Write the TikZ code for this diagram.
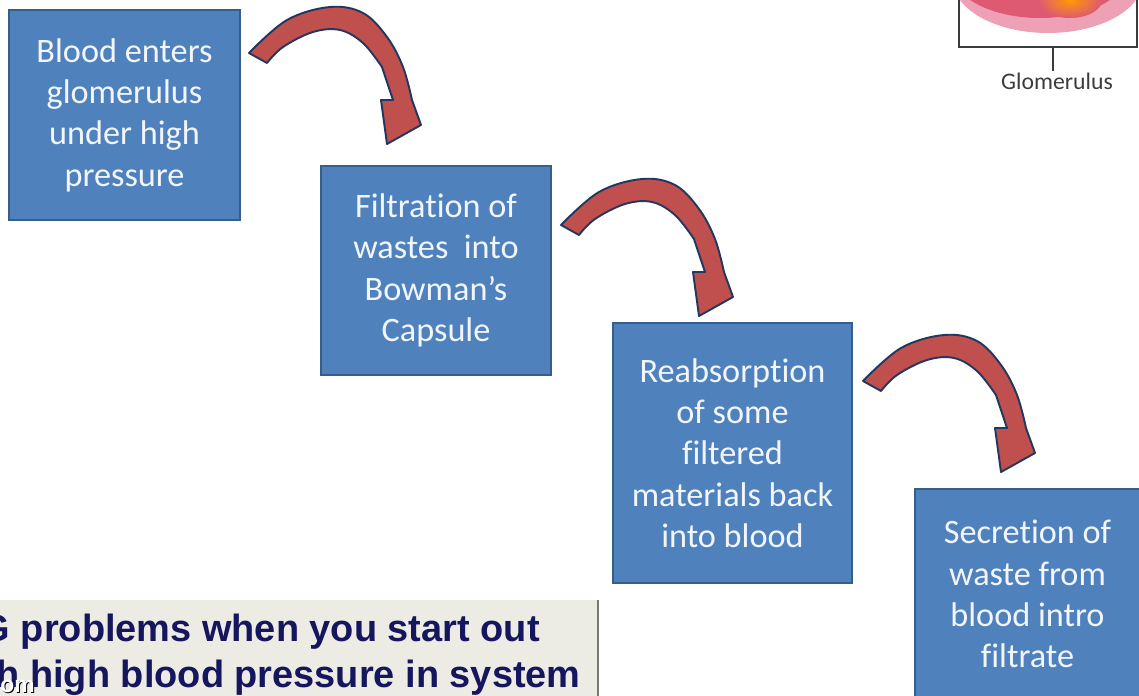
\documentclass[tikz,border=0pt]{standalone}
\usepackage{fontspec}
\setmainfont{Carlito}[Ligatures=NoCommon]
\newfontfamily\notefont{Liberation Sans}
\usetikzlibrary{positioning, calc}
\usepackage{xcolor}
\definecolor{boxblue}{RGB}{79,129,189}
\definecolor{boxedge}{RGB}{56,93,138}
\definecolor{boxtext}{RGB}{242,246,252}
\definecolor{arrred}{RGB}{192,80,77}
\definecolor{arredge}{RGB}{35,55,95}
\definecolor{notefill}{RGB}{236,236,228}
\definecolor{noteedge}{RGB}{120,120,115}
\definecolor{notetext}{RGB}{22,22,95}
\definecolor{glomred}{RGB}{222,90,115}
\definecolor{glompink}{RGB}{238,160,180}
\definecolor{labelgray}{RGB}{60,60,60}
\tikzset{
  stepbox/.style={draw=boxedge,fill=boxblue,line width=1.2pt,rectangle,align=center,text=boxtext,font=\fontsize{19.5}{23.5}\selectfont,inner sep=2pt},
  notestyle/.style={font=\notefont\bfseries\fontsize{21.6}{24}\selectfont,text=notetext,inner sep=0pt},
  bendarrow/.pic={
    \filldraw[fill=arrred,draw=arredge,line width=1.1pt,line join=round]
      plot[smooth,tension=0.6] coordinates {(-9,-5) (29,-38) (72,-51) (105,-45) (129,-21) (145,9) (154,42)}
      -- (163,67) -- (129,86) -- (123,42) -- (135,42)
      -- plot[smooth,tension=0.6] coordinates {(124,9) (105,-15) (82,-28) (55,-26) (25,-11) (9,5)}
      -- cycle;
  },
}

\begin{document}
\begin{tikzpicture}[x=0.02cm,y=-0.02cm]

\path[use as bounding box] (0,0) rectangle (1139,696);
\clip (0,0) rectangle (1139,696);
\fill[white] (0,0) rectangle (1139,696);

% Glomerulus picture, top right corner
\begin{scope}
  \clip (959,-5) rectangle (1137,47);
  \fill[glompink] (1048,-20) ellipse [x radius=95, y radius=53];
  \fill[glomred] (1040,-28) ellipse [x radius=88, y radius=46];
  \shade[inner color=orange!80!yellow, outer color=glomred] (1070,0) ellipse [x radius=32, y radius=18];
\end{scope}
\draw[labelgray,line width=1pt] (959,-5) rectangle (1137,47);
\coordinate (glomtick) at (1053,47);
\node[font=\fontsize{13.5}{16}\selectfont,text=labelgray,inner sep=1pt] (glomlabel) at (1057,81) {Glomerulus};
\draw[labelgray,line width=0.8pt] (glomtick) -- (glomtick |- glomlabel.north);

% Steps
\node[stepbox,minimum width=4.62cm,minimum height=4.2cm] (blood) at (124.5,115)
  {Blood enters\\glomerulus\\under high\\pressure};
\node[stepbox,minimum width=4.6cm,minimum height=4.18cm] (filtr) at (436,270.5)
  {Filtration of\\wastes\ \ into\\Bowman’s\\Capsule};
\node[stepbox,minimum width=4.78cm,minimum height=5.2cm] (reabs) at (732.5,453)
  {Reabsorption\\of some\\filtered\\materials back\\into blood};
\node[stepbox,minimum width=4.5cm,minimum height=4.2cm] (secr) at (1027.5,594)
  {Secretion of\\waste from\\blood intro\\filtrate};

% Bent arrows between the steps
\pic at (258,58) {bendarrow};
\pic at (570,230) {bendarrow};
\pic at (872,386) {bendarrow};

% Note box, bottom left
\fill[notefill] (0,600) rectangle (598,700);
\draw[noteedge,line width=1.5pt] (598,600) -- (598,700);
\node[notestyle,anchor=base east] (noteone) at (540,641) {G problems when you start out};
\node[notestyle,anchor=base east] (notetwo) at (581,687) {h high blood pressure in system};

% small mark in the corner
\node[font=\notefont\bfseries\fontsize{13}{13}\selectfont,text=black,anchor=base west,inner sep=0pt] (markshade) at (1,693) {om};
\node[font=\notefont\bfseries\fontsize{13}{13}\selectfont,text=white,anchor=base west,inner sep=0pt] (mark) at (0,692) {om};

\end{tikzpicture}
\end{document}
